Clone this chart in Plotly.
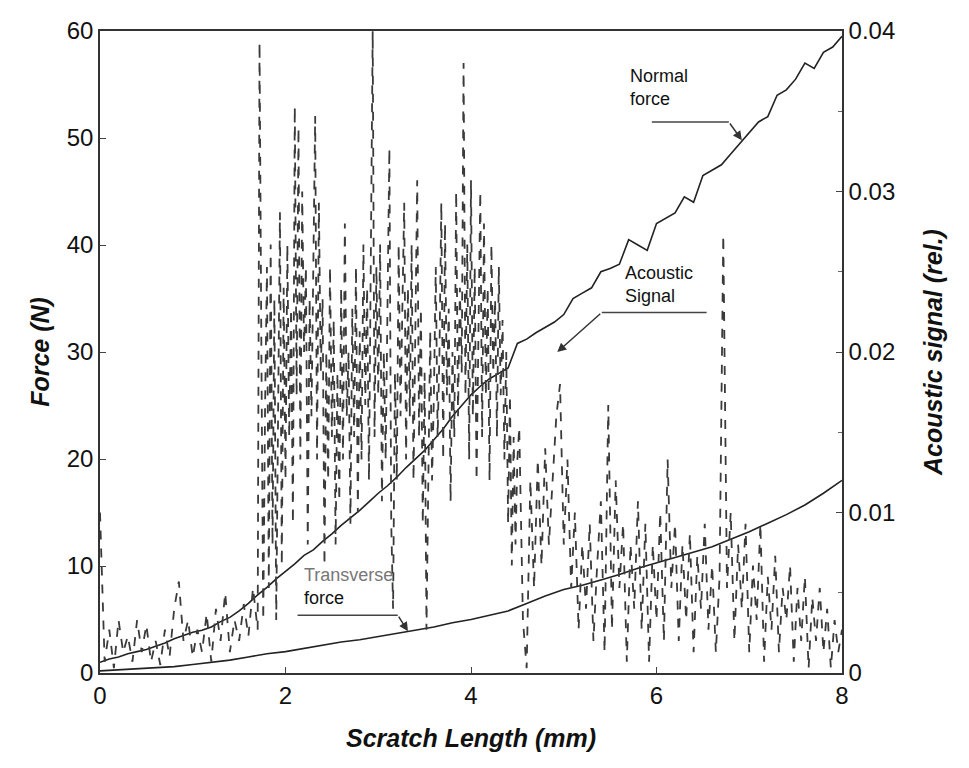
import numpy as np
import plotly.graph_objects as go

# ---------------- data ----------------
# Normal force (N), sampled every 0.1 mm
normal_x = np.round(np.arange(0, 8.001, 0.1), 2)
normal_force = [1.0, 1.3, 1.5, 1.8, 2.0, 2.2, 2.5, 2.8, 3.2, 3.5,
                3.8, 4.0, 4.3, 4.8, 5.2, 5.8, 6.5, 7.3, 8.0, 8.8,
                9.5, 10.2, 11.0, 11.5, 12.3, 13.0, 13.8, 14.5, 15.2, 16.0,
                16.8, 17.5, 18.3, 19.2, 20.0, 20.8, 21.8, 22.8, 24.0, 25.0,
                26.0, 26.8, 27.5, 28.0, 28.5, 30.8, 31.2, 31.8, 32.3, 32.8,
                33.5, 35.0, 35.5, 36.0, 37.5, 37.8, 38.2, 40.5, 40.0, 39.5,
                42.0, 42.5, 43.0, 44.5, 44.0, 46.5, 47.0, 47.5, 48.5, 49.5,
                50.5, 51.5, 52.0, 54.0, 54.5, 55.5, 57.0, 56.5, 58.0, 58.5,
                59.5]

# Transverse force (N), sampled every 0.2 mm
transverse_x = np.round(np.arange(0, 8.001, 0.2), 2)
transverse_force = [0.2, 0.3, 0.4, 0.5, 0.6, 0.8, 1.0, 1.2, 1.5, 1.8,
                    2.0, 2.3, 2.6, 2.9, 3.1, 3.4, 3.7, 4.0, 4.3, 4.7,
                    5.0, 5.4, 5.8, 6.5, 7.2, 7.8, 8.2, 8.7, 9.2, 9.8,
                    10.3, 10.8, 11.3, 11.8, 12.5, 13.2, 14.0, 14.8, 15.7, 16.8,
                    18.0]

# Acoustic signal (rel.), values given in units of 1e-3
acoustic_x = np.concatenate([
    np.round(np.arange(0, 1.701, 0.05), 3),
    np.round(np.arange(1.72, 4.501, 0.02), 3),
    np.round(np.arange(4.52, 8.001, 0.04), 3),
])
acoustic_e3 = [
    # 0 - 1.70 mm
    10, 0.7, 2.7, 0.3, 3.3, 1.3, 2.3, 0.7, 3.3, 1.3,
    3, 0.7, 2, 0.5, 2.7, 1, 4, 5.7, 2, 3.3,
    1, 2.7, 1.3, 3.7, 0.7, 4, 2, 5, 1.3, 3.3,
    2, 4.3, 2.3, 5.3, 2.7,
    # 1.72 - 4.50 mm
    39.3, 20, 3.3, 16.7, 25.3, 5.3, 26.7, 8, 23.3, 3.3,
    18.7, 28.7, 6.7, 24, 12, 26.7, 14.7, 22.7, 9.3, 35.3,
    17.3, 34, 13.3, 30, 20, 25.3, 8, 23.3, 16, 26.7,
    34.7, 13.3, 29.3, 18.7, 23.3, 6.7, 20, 12, 25.3, 14.7,
    22, 8, 18.7, 10.7, 24, 13.3, 28, 16, 20, 9.3,
    22.7, 14.7, 25.3, 10, 21.3, 13.3, 26.7, 16.7, 24, 12,
    29.3, 40, 14.7, 25.3, 17.3, 26.7, 10.7, 20, 13.3, 24,
    32.7, 9.3, 4, 18.7, 12, 26.7, 16, 22.7, 29.3, 13.3,
    24, 16, 26.7, 12, 20, 30.7, 14.7, 22.7, 9.3, 18.7,
    2.7, 13.3, 21.3, 12, 17.3, 25.3, 14.7, 20, 29.3, 13.3,
    28, 17.3, 22.7, 10.7, 20, 14.7, 30, 16, 24, 18.7,
    38, 17.3, 26.7, 13.3, 30.7, 16, 25.3, 12, 22.7, 30,
    14.7, 28, 17.3, 24, 12, 26.7, 18.7, 23.3, 14.7, 25.3,
    17.3, 22, 13.3, 20, 9.3, 17.3, 6.7, 14.7, 8, 13.3,
    # 4.52 - 8.00 mm
    15.3, 3.3, 0.3, 12, 5.3, 13.3, 6.7, 14, 8, 12,
    16, 18, 8, 13.3, 5.3, 10, 2.7, 8, 4, 9.3,
    2, 6.7, 10.7, 1.3, 16.7, 2.7, 12, 5.3, 9.3, 0.7,
    8, 4, 10.7, 2.7, 9.3, 0.7, 8, 3.3, 10, 2,
    13.3, 5.3, 9.3, 2, 8, 3.3, 8.7, 1.3, 7.3, 4,
    9.3, 2.7, 6.7, 1.3, 6, 27.3, 5.3, 10, 2, 8,
    4, 9.3, 1.3, 6.7, 3.3, 9.3, 0.7, 6, 2.7, 7.3,
    1.3, 5.3, 3.3, 6.7, 0.7, 5.3, 2, 6, 0.3, 4.7,
    2, 5.3, 1.3, 4, 0.3, 3.3, 1.3, 2.7,
]
assert len(acoustic_x) == len(acoustic_e3)
acoustic_signal = [v / 1000 for v in acoustic_e3]

x_ticks = [0, 2, 4, 6, 8]
force_ticks = [0, 10, 20, 30, 40, 50, 60]
acoustic_ticks = [0, 0.01, 0.02, 0.03, 0.04]

# ---------------- figure ----------------
FONT = "Liberation Sans, Arial, sans-serif"
fig = go.Figure()

fig.add_trace(go.Scatter(x=normal_x, y=normal_force, mode="lines",
                         line=dict(color="#222222", width=1.6), yaxis="y"))
fig.add_trace(go.Scatter(x=transverse_x, y=transverse_force, mode="lines",
                         line=dict(color="#222222", width=1.6), yaxis="y"))
fig.add_trace(go.Scatter(x=acoustic_x, y=acoustic_signal, mode="lines",
                         line=dict(color="#3a3a3a", width=1.8, dash="dash"),
                         yaxis="y2"))

axis_common = dict(showgrid=False, zeroline=False, showline=True,
                   linecolor="#333333", linewidth=1.5,
                   tickfont=dict(family=FONT, size=24, color="#111111"),
                   ticks="inside", ticklen=6, tickcolor="#444444")
title_font = dict(family=FONT, size=25, color="#111111")

fig.update_layout(
    width=969, height=768,
    margin=dict(l=100, r=127, t=31, b=95),
    paper_bgcolor="white", plot_bgcolor="white",
    showlegend=False,
    xaxis=dict(range=[0, 8], tickvals=x_ticks, mirror=True,
               title=dict(text="<b><i>Scratch Length (mm)</i></b>",
                          font=title_font, standoff=22),
               **axis_common),
    yaxis=dict(range=[0, 60], tickvals=force_ticks,
               title=dict(text="<b><i>Force (N)</i></b>",
                          font=title_font, standoff=10),
               **axis_common),
    yaxis2=dict(range=[0, 0.04], tickvals=acoustic_ticks, overlaying="y",
                side="right",
                minor=dict(ticks="inside", ticklen=4, dtick=0.005,
                           tickcolor="#666666"),
                title=dict(text="<b><i>Acoustic signal (rel.)</i></b>",
                           font=title_font, standoff=30),
                **axis_common),
)

# Annotation connectors (horizontal leader lines)
leader = dict(color="#444444", width=1.5)
fig.add_shape(type="line", x0=5.95, y0=51.5, x1=6.78, y1=51.5, line=leader)
fig.add_shape(type="line", x0=5.41, y0=33.7, x1=6.54, y1=33.7, line=leader)
fig.add_shape(type="line", x0=2.13, y0=5.4, x1=3.21, y1=5.4, line=leader)

arrow_common = dict(showarrow=True, arrowhead=2, arrowsize=1.2, arrowwidth=1.5,
                    arrowcolor="#333333", axref="x", ayref="y", text="")
fig.add_annotation(x=6.92, y=49.8, ax=6.78, ay=51.5, **arrow_common)
fig.add_annotation(x=4.93, y=30.0, ax=5.41, ay=33.7, **arrow_common)
fig.add_annotation(x=3.32, y=3.9, ax=3.21, ay=5.4, **arrow_common)

label_font = dict(family=FONT, size=18, color="#111111")
fig.add_annotation(x=5.69, y=54.7, text="Normal<br>force", showarrow=False,
                   xanchor="left", align="left", font=label_font)
fig.add_annotation(x=5.64, y=36.3, text="Acoustic<br>Signal", showarrow=False,
                   xanchor="left", align="left", font=label_font)
fig.add_annotation(x=2.18, y=8.1,
                   text="<span style='color:#777777'>Transverse</span><br>force",
                   showarrow=False, xanchor="left", align="left", font=label_font)

fig.write_html("out.html")
